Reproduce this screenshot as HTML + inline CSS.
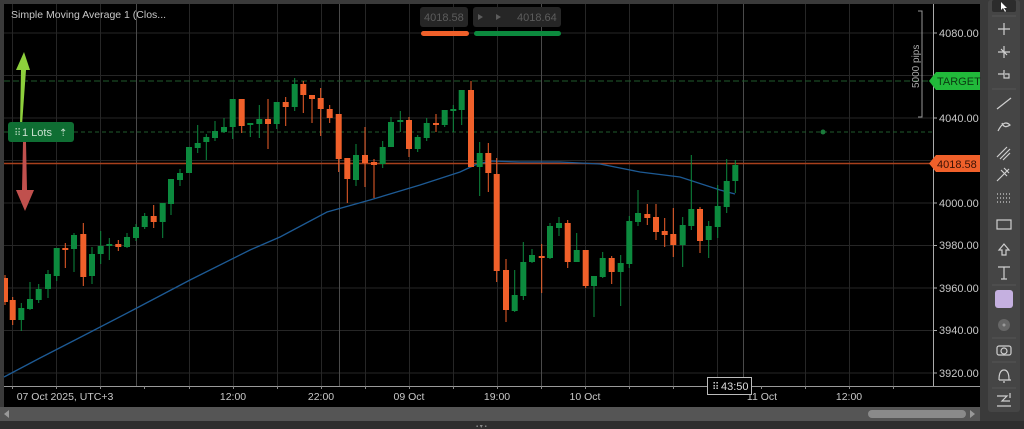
<!DOCTYPE html>
<html><head><meta charset="utf-8"><style>
html,body{margin:0;padding:0;background:#3a3a3a;width:1024px;height:429px;overflow:hidden}
svg{display:block}
text{font-family:"Liberation Sans",sans-serif}
</style></head><body>
<svg width="1024" height="429" viewBox="0 0 1024 429" xmlns="http://www.w3.org/2000/svg">
<rect x="0" y="0" width="1024" height="429" fill="#3a3a3a"/>
<rect x="4" y="4" width="976" height="403" fill="#000"/>
<g stroke="#262626" stroke-width="1">
<line x1="4" x2="933" y1="33" y2="33"/><line x1="4" x2="933" y1="75.5" y2="75.5"/><line x1="4" x2="933" y1="118" y2="118"/><line x1="4" x2="933" y1="160.5" y2="160.5"/><line x1="4" x2="933" y1="203" y2="203"/><line x1="4" x2="933" y1="245.5" y2="245.5"/><line x1="4" x2="933" y1="288" y2="288"/><line x1="4" x2="933" y1="330.5" y2="330.5"/><line x1="4" x2="933" y1="373" y2="373"/>
<line x1="12.5" x2="12.5" y1="4" y2="386"/><line x1="56.5" x2="56.5" y1="4" y2="386"/><line x1="100.5" x2="100.5" y1="4" y2="386"/><line x1="189.5" x2="189.5" y1="4" y2="386"/><line x1="233.5" x2="233.5" y1="4" y2="386"/><line x1="277.5" x2="277.5" y1="4" y2="386"/><line x1="321.5" x2="321.5" y1="4" y2="386"/><line x1="365.5" x2="365.5" y1="4" y2="386"/><line x1="409.5" x2="409.5" y1="4" y2="386"/><line x1="453.5" x2="453.5" y1="4" y2="386"/><line x1="497.5" x2="497.5" y1="4" y2="386"/><line x1="585.5" x2="585.5" y1="4" y2="386"/><line x1="629.5" x2="629.5" y1="4" y2="386"/><line x1="673.5" x2="673.5" y1="4" y2="386"/><line x1="717.5" x2="717.5" y1="4" y2="386"/><line x1="805.5" x2="805.5" y1="4" y2="386"/><line x1="849.5" x2="849.5" y1="4" y2="386"/><line x1="893.5" x2="893.5" y1="4" y2="386"/>
</g>
<g stroke="#4a4a4a" stroke-width="1">
<line x1="136.5" x2="136.5" y1="4" y2="386"/><line x1="339.5" x2="339.5" y1="4" y2="386"/><line x1="541.5" x2="541.5" y1="4" y2="386"/><line x1="743.5" x2="743.5" y1="4" y2="386"/>
</g>
<line x1="933.5" x2="933.5" y1="4" y2="386" stroke="#aaa"/>
<line x1="4" x2="980" y1="386.5" y2="386.5" stroke="#999"/>
<line x1="4" x2="933" y1="81" y2="81" stroke="#1f5a2c" stroke-dasharray="6,3"/>
<line x1="4" x2="933" y1="132" y2="132" stroke="#1f5a2c" stroke-dasharray="4,3"/>
<line x1="4" x2="933" y1="163.5" y2="163.5" stroke="#a8401c" stroke-width="1.5"/>
<circle cx="823" cy="132" r="2.5" fill="#1a7a3a"/>
<polyline fill="none" stroke="#1d5a94" stroke-width="1.3" points="4,377 40,358 77,339 133,310 190,280 250,250 280,237 327,212 370,200 420,185 460,172 475,165 490,161 520,162 560,162 600,164 640,172 680,177 720,190 735,194"/>
<g fill="#f0602a" stroke="#f0602a">
<line x1="5" x2="5" y1="275" y2="305"/><rect x="4" y="278" width="4" height="24" stroke="none"/>
<line x1="12.7" x2="12.7" y1="297" y2="325"/><rect x="9.7" y="300" width="6" height="20" stroke="none"/>
<line x1="65.3" x2="65.3" y1="243" y2="268"/><rect x="62.3" y="248" width="6" height="2" stroke="none"/>
<line x1="83.3" x2="83.3" y1="223" y2="286"/><rect x="80.3" y="234" width="6" height="43" stroke="none"/>
<line x1="118.3" x2="118.3" y1="240" y2="251"/><rect x="115.3" y="244" width="6" height="3" stroke="none"/>
<line x1="153.7" x2="153.7" y1="205" y2="228"/><rect x="150.7" y="216" width="6" height="6" stroke="none"/>
<line x1="241.7" x2="241.7" y1="99" y2="133"/><rect x="238.7" y="99" width="6" height="27" stroke="none"/>
<line x1="268" x2="268" y1="99" y2="149"/><rect x="265" y="119" width="6" height="5" stroke="none"/>
<line x1="285.7" x2="285.7" y1="97" y2="126"/><rect x="282.7" y="102" width="6" height="5" stroke="none"/>
<line x1="303.3" x2="303.3" y1="81" y2="113"/><rect x="300.3" y="84" width="6" height="11" stroke="none"/>
<line x1="312" x2="312" y1="95" y2="123"/><rect x="309" y="95" width="6" height="4" stroke="none"/>
<line x1="320.7" x2="320.7" y1="88" y2="136"/><rect x="317.7" y="98" width="6" height="11" stroke="none"/>
<line x1="329.7" x2="329.7" y1="105" y2="123"/><rect x="326.7" y="109" width="6" height="9" stroke="none"/>
<line x1="338.7" x2="338.7" y1="114" y2="172"/><rect x="335.7" y="114" width="6" height="45" stroke="none"/>
<line x1="347.3" x2="347.3" y1="158" y2="203"/><rect x="344.3" y="158" width="6" height="21" stroke="none"/>
<line x1="365" x2="365" y1="127" y2="187"/><rect x="362" y="155" width="6" height="8" stroke="none"/>
<line x1="374" x2="374" y1="159" y2="198"/><rect x="371" y="162" width="6" height="3" stroke="none"/>
<line x1="409" x2="409" y1="117" y2="157"/><rect x="406" y="120" width="6" height="29" stroke="none"/>
<line x1="436" x2="436" y1="114" y2="132"/><rect x="433" y="123" width="6" height="2" stroke="none"/>
<line x1="471" x2="471" y1="81" y2="167"/><rect x="468" y="90" width="6" height="77" stroke="none"/>
<line x1="488.3" x2="488.3" y1="143" y2="192"/><rect x="485.3" y="153" width="6" height="20" stroke="none"/>
<line x1="496.7" x2="496.7" y1="158" y2="282"/><rect x="493.7" y="174" width="6" height="97" stroke="none"/>
<line x1="506" x2="506" y1="259" y2="322"/><rect x="503" y="270" width="6" height="40" stroke="none"/>
<line x1="541.7" x2="541.7" y1="244" y2="293"/><rect x="538.7" y="256" width="6" height="2" stroke="none"/>
<line x1="567.7" x2="567.7" y1="220" y2="268"/><rect x="564.7" y="223" width="6" height="39" stroke="none"/>
<line x1="585.7" x2="585.7" y1="250" y2="288"/><rect x="582.7" y="250" width="6" height="36" stroke="none"/>
<line x1="611.7" x2="611.7" y1="256" y2="284"/><rect x="608.7" y="258" width="6" height="14" stroke="none"/>
<line x1="647.3" x2="647.3" y1="204" y2="225"/><rect x="644.3" y="214" width="6" height="4" stroke="none"/>
<line x1="656" x2="656" y1="204" y2="240"/><rect x="653" y="217" width="6" height="15" stroke="none"/>
<line x1="664.7" x2="664.7" y1="218" y2="247"/><rect x="661.7" y="231" width="6" height="4" stroke="none"/>
<line x1="673.3" x2="673.3" y1="208" y2="257"/><rect x="670.3" y="234" width="6" height="11" stroke="none"/>
<line x1="700" x2="700" y1="207" y2="253"/><rect x="697" y="209" width="6" height="32" stroke="none"/>
</g>
<g fill="#0c8a3e" stroke="#0c8a3e">
<line x1="21.3" x2="21.3" y1="303" y2="331"/><rect x="18.3" y="308" width="6" height="12" stroke="none"/>
<line x1="30" x2="30" y1="282" y2="310"/><rect x="27" y="299" width="6" height="10" stroke="none"/>
<line x1="38.7" x2="38.7" y1="284" y2="303"/><rect x="35.7" y="289" width="6" height="11" stroke="none"/>
<line x1="48" x2="48" y1="270" y2="298"/><rect x="45" y="274" width="6" height="15" stroke="none"/>
<line x1="56.7" x2="56.7" y1="248" y2="281"/><rect x="53.7" y="248" width="6" height="28" stroke="none"/>
<line x1="74" x2="74" y1="233" y2="272"/><rect x="71" y="235" width="6" height="14" stroke="none"/>
<line x1="92" x2="92" y1="247" y2="284"/><rect x="89" y="254" width="6" height="22" stroke="none"/>
<line x1="100.7" x2="100.7" y1="231" y2="264"/><rect x="97.7" y="246" width="6" height="8" stroke="none"/>
<line x1="109.3" x2="109.3" y1="238" y2="260"/><rect x="106.3" y="244" width="6" height="2" stroke="none"/>
<line x1="127" x2="127" y1="233" y2="248"/><rect x="124" y="237" width="6" height="10" stroke="none"/>
<line x1="136" x2="136" y1="224" y2="241"/><rect x="133" y="227" width="6" height="11" stroke="none"/>
<line x1="144.7" x2="144.7" y1="213" y2="229"/><rect x="141.7" y="216" width="6" height="11" stroke="none"/>
<line x1="162.7" x2="162.7" y1="203" y2="238"/><rect x="159.7" y="203" width="6" height="19" stroke="none"/>
<line x1="171" x2="171" y1="179" y2="215"/><rect x="168" y="179" width="6" height="25" stroke="none"/>
<line x1="180" x2="180" y1="169" y2="186"/><rect x="177" y="173" width="6" height="7" stroke="none"/>
<line x1="189" x2="189" y1="147" y2="173"/><rect x="186" y="147" width="6" height="26" stroke="none"/>
<line x1="197.7" x2="197.7" y1="125" y2="153"/><rect x="194.7" y="143" width="6" height="5" stroke="none"/>
<line x1="206.3" x2="206.3" y1="134" y2="160"/><rect x="203.3" y="137" width="6" height="5" stroke="none"/>
<line x1="215" x2="215" y1="121" y2="141"/><rect x="212" y="131" width="6" height="7" stroke="none"/>
<line x1="224" x2="224" y1="118" y2="133"/><rect x="221" y="127" width="6" height="5" stroke="none"/>
<line x1="232.7" x2="232.7" y1="99" y2="139"/><rect x="229.7" y="99" width="6" height="28" stroke="none"/>
<line x1="250.3" x2="250.3" y1="123" y2="137"/><rect x="247.3" y="123" width="6" height="2" stroke="none"/>
<line x1="259.3" x2="259.3" y1="105" y2="138"/><rect x="256.3" y="119" width="6" height="5" stroke="none"/>
<line x1="276.7" x2="276.7" y1="102" y2="129"/><rect x="273.7" y="102" width="6" height="22" stroke="none"/>
<line x1="294.7" x2="294.7" y1="78" y2="111"/><rect x="291.7" y="84" width="6" height="23" stroke="none"/>
<line x1="356" x2="356" y1="144" y2="186"/><rect x="353" y="155" width="6" height="25" stroke="none"/>
<line x1="382.7" x2="382.7" y1="141" y2="168"/><rect x="379.7" y="147" width="6" height="17" stroke="none"/>
<line x1="391" x2="391" y1="117" y2="147"/><rect x="388" y="122" width="6" height="25" stroke="none"/>
<line x1="400.3" x2="400.3" y1="111" y2="132"/><rect x="397.3" y="120" width="6" height="2" stroke="none"/>
<line x1="417.7" x2="417.7" y1="135" y2="152"/><rect x="414.7" y="137" width="6" height="12" stroke="none"/>
<line x1="426.7" x2="426.7" y1="118" y2="141"/><rect x="423.7" y="123" width="6" height="15" stroke="none"/>
<line x1="444.7" x2="444.7" y1="110" y2="127"/><rect x="441.7" y="110" width="6" height="15" stroke="none"/>
<line x1="453.3" x2="453.3" y1="105" y2="132"/><rect x="450.3" y="109" width="6" height="2" stroke="none"/>
<line x1="461.7" x2="461.7" y1="90" y2="125"/><rect x="458.7" y="90" width="6" height="20" stroke="none"/>
<line x1="479.7" x2="479.7" y1="142" y2="196"/><rect x="476.7" y="153" width="6" height="14" stroke="none"/>
<line x1="514.7" x2="514.7" y1="270" y2="312"/><rect x="511.7" y="295" width="6" height="16" stroke="none"/>
<line x1="523.3" x2="523.3" y1="242" y2="300"/><rect x="520.3" y="262" width="6" height="34" stroke="none"/>
<line x1="532" x2="532" y1="249" y2="263"/><rect x="529" y="255" width="6" height="7" stroke="none"/>
<line x1="550" x2="550" y1="223" y2="259"/><rect x="547" y="226" width="6" height="32" stroke="none"/>
<line x1="559" x2="559" y1="217" y2="236"/><rect x="556" y="223" width="6" height="5" stroke="none"/>
<line x1="576.7" x2="576.7" y1="233" y2="262"/><rect x="573.7" y="250" width="6" height="12" stroke="none"/>
<line x1="594" x2="594" y1="276" y2="317"/><rect x="591" y="276" width="6" height="10" stroke="none"/>
<line x1="602.7" x2="602.7" y1="252" y2="278"/><rect x="599.7" y="258" width="6" height="19" stroke="none"/>
<line x1="620.7" x2="620.7" y1="255" y2="306"/><rect x="617.7" y="263" width="6" height="9" stroke="none"/>
<line x1="629.3" x2="629.3" y1="216" y2="268"/><rect x="626.3" y="221" width="6" height="43" stroke="none"/>
<line x1="638" x2="638" y1="190" y2="226"/><rect x="635" y="213" width="6" height="9" stroke="none"/>
<line x1="682.7" x2="682.7" y1="217" y2="267"/><rect x="679.7" y="225" width="6" height="20" stroke="none"/>
<line x1="691.3" x2="691.3" y1="155" y2="230"/><rect x="688.3" y="209" width="6" height="17" stroke="none"/>
<line x1="708.7" x2="708.7" y1="221" y2="258"/><rect x="705.7" y="226" width="6" height="14" stroke="none"/>
<line x1="717.7" x2="717.7" y1="185" y2="238"/><rect x="714.7" y="206" width="6" height="21" stroke="none"/>
<line x1="726.7" x2="726.7" y1="159" y2="213"/><rect x="723.7" y="181" width="6" height="26" stroke="none"/>
<line x1="735.3" x2="735.3" y1="160" y2="193"/><rect x="732.3" y="165" width="6" height="16" stroke="none"/>
</g>
<text x="11" y="18" font-size="10.5" fill="#c8c8c8">Simple Moving Average 1 (Clos...</text>
<rect x="420" y="7" width="48" height="20" rx="3" fill="#262626"/>
<text x="424" y="21" font-size="11" fill="#5c5c5c">4018.58</text>
<rect x="473" y="7" width="88" height="20" rx="3" fill="#262626"/>
<text x="517" y="21" font-size="11" fill="#5c5c5c">4018.64</text>
<polygon points="478,14 483,17 478,20" fill="#5c5c5c"/>
<polygon points="496,14 501,17 496,20" fill="#5c5c5c"/>
<rect x="421" y="31" width="48" height="5" rx="2.5" fill="#f0602a"/>
<rect x="474" y="31" width="87" height="5" rx="2.5" fill="#0c8a3e"/>
<polygon points="24,52 30,70 26,70 22,125 20,125 21,70 16,70" fill="#8dcf3c"/>
<polygon points="23,142 26,142 27,190 34,190 25,211 16,190 22,190" fill="#c0504d"/>
<rect x="8" y="122" width="66" height="20" rx="3" fill="#0f6e33"/>
<text x="14" y="136" font-size="10" fill="#9fc9a9">⠿</text>
<text x="22" y="136" font-size="11" fill="#c9e0cf">1 Lots</text>
<text x="59" y="136" font-size="10" fill="#c9e0cf">⇡</text>
<polyline points="918,11 922,11 922,117 918,117" fill="none" stroke="#999"/>
<text x="0" y="0" font-size="10" fill="#aaa" transform="translate(919,88) rotate(-90)">5000 pips</text>
<g font-size="11" fill="#c8c8c8">
<text x="939" y="37">4080.00</text><text x="939" y="122">4040.00</text><text x="939" y="207">4000.00</text><text x="939" y="249">3980.00</text><text x="939" y="292">3960.00</text><text x="939" y="334">3940.00</text><text x="939" y="377">3920.00</text>
</g>
<g stroke="#aaa"><line x1="933" x2="937" y1="33" y2="33"/><line x1="933" x2="937" y1="118" y2="118"/><line x1="933" x2="937" y1="203" y2="203"/><line x1="933" x2="937" y1="245.5" y2="245.5"/><line x1="933" x2="937" y1="288" y2="288"/><line x1="933" x2="937" y1="330.5" y2="330.5"/><line x1="933" x2="937" y1="373" y2="373"/></g>
<polygon points="929,81 936,72 980,72 980,90 936,90" fill="#21b93a"/>
<text x="937" y="85" font-size="11" fill="#0c3a12">TARGET</text>
<polygon points="929,163.5 936,155 980,155 980,172 936,172" fill="#f0602a"/>
<text x="937" y="168" font-size="11" fill="#3a1206">4018.58</text>
<g stroke="#888"><line x1="12.5" x2="12.5" y1="386" y2="389"/><line x1="56.5" x2="56.5" y1="386" y2="389"/><line x1="100.5" x2="100.5" y1="386" y2="389"/><line x1="144.5" x2="144.5" y1="386" y2="389"/><line x1="189.5" x2="189.5" y1="386" y2="389"/><line x1="233.5" x2="233.5" y1="386" y2="389"/><line x1="277.5" x2="277.5" y1="386" y2="389"/><line x1="321.5" x2="321.5" y1="386" y2="389"/><line x1="365.5" x2="365.5" y1="386" y2="389"/><line x1="409.5" x2="409.5" y1="386" y2="389"/><line x1="453.5" x2="453.5" y1="386" y2="389"/><line x1="497.5" x2="497.5" y1="386" y2="389"/><line x1="541.5" x2="541.5" y1="386" y2="389"/><line x1="585.5" x2="585.5" y1="386" y2="389"/><line x1="629.5" x2="629.5" y1="386" y2="389"/><line x1="673.5" x2="673.5" y1="386" y2="389"/><line x1="761.5" x2="761.5" y1="386" y2="389"/><line x1="805.5" x2="805.5" y1="386" y2="389"/><line x1="849.5" x2="849.5" y1="386" y2="389"/><line x1="893.5" x2="893.5" y1="386" y2="389"/></g>
<g font-size="10.5" fill="#c8c8c8" text-anchor="middle">
<text x="65" y="400">07 Oct 2025, UTC+3</text><text x="233" y="400">12:00</text><text x="321" y="400">22:00</text><text x="409" y="400">09 Oct</text><text x="497" y="400">19:00</text><text x="585" y="400">10 Oct</text><text x="762" y="400">11 Oct</text><text x="849" y="400">12:00</text>
</g>
<rect x="707.5" y="377.5" width="44" height="17" fill="#000" stroke="#bbb"/>
<text x="712" y="390" font-size="10" fill="#ccc">⠿</text>
<text x="721" y="390" font-size="11" fill="#ddd">43:50</text>
<rect x="0" y="407" width="980" height="14" fill="#555"/>
<rect x="868" y="410" width="98" height="8" rx="4" fill="#8a8a8a"/>
<polygon points="4,414 9,410 9,418" fill="#999"/>
<polygon points="975,414 970,410 970,418" fill="#999"/>
<rect x="0" y="421" width="1024" height="8" fill="#2e2e2e"/>
<text x="476" y="428" font-size="6" fill="#888">▪ ▾ ▪</text>
<rect x="988" y="0" width="32" height="412" rx="3" fill="#454545"/>
<rect x="992" y="0" width="24" height="12" rx="2" fill="#2c2c2c"/>
<path d="M1001,2 l0,8 l2,-2 l2,4 l1,-1 l-2,-3 l3,0 z" fill="#fff"/>
<g fill="none" stroke="#cfcfcf" stroke-width="1.2">
<path d="M1004,23 v12 M998,29 h12"/>
<path d="M1004,46 v12 M998,52 h12 M1001,49 l6,6"/>
<path d="M1004,70 v8 h5 v-4 h-4 M998,74 h6"/>
<path d="M997,109 l14,-11"/>
<path d="M998,131 q6,-12 12,-6 q-6,4 -8,-2"/>
<path d="M997,157 l10,-10 M1000,159 l10,-10 M1003,160 l7,-7"/>
<path d="M997,181 l12,-12 M1001,170 l6,6 M1004,168 l5,5"/>
<path d="M997,194 h14 M997,198 h14 M997,202 h14" stroke-dasharray="1,2"/>
<rect x="997" y="220" width="14" height="9"/>
<path d="M1004,244 l-5,6 h3 v5 h4 v-5 h3 z"/>
<path d="M998,267 h12 M1004,267 v12 M1001,279 h6"/>
</g>
<rect x="995" y="290" width="18" height="18" rx="3" fill="#c5b0e0"/>
<circle cx="1004" cy="325" r="6" fill="#666"/>
<circle cx="1004" cy="325" r="1.5" fill="#999"/>
<g fill="none" stroke="#cfcfcf" stroke-width="1.2">
<rect x="997" y="346" width="14" height="9" rx="2"/><circle cx="1004" cy="351" r="3"/>
<path d="M999,380 q0,-10 5,-10 q5,0 5,10 h-10 h12 M1003,382 h2"/>
<path d="M997,396 h10 l-5,5 h8 M997,406 h14 M1010,398 v-5"/>
</g>
<g stroke="#555"><line x1="992" x2="1016" y1="16" y2="16"/><line x1="992" x2="1016" y1="89" y2="89"/><line x1="992" x2="1016" y1="285" y2="285"/><line x1="992" x2="1016" y1="338" y2="338"/><line x1="992" x2="1016" y1="362" y2="362"/><line x1="992" x2="1016" y1="388" y2="388"/></g>
</svg>
</body></html>
